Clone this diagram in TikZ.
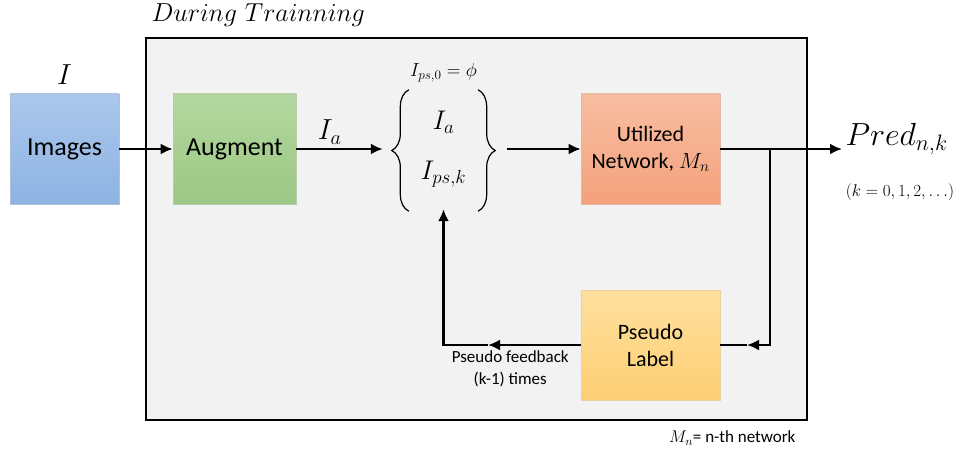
\RequirePackage{fix-cm}
\documentclass[tikz,border=0pt]{standalone}
\usepackage{amsmath}
\usepackage{fontspec}
\setsansfont{Carlito}
\usepackage{xcolor}
\usetikzlibrary{arrows.meta,positioning,decorations.pathreplacing}

\definecolor{framegray}{HTML}{F2F2F2}
\definecolor{imgtop}{HTML}{ABC7EC}
\definecolor{imgbot}{HTML}{8DB3E2}
\definecolor{augtop}{HTML}{B4D8A0}
\definecolor{augbot}{HTML}{9BC783}
\definecolor{nettop}{HTML}{F8BEA2}
\definecolor{netbot}{HTML}{F4A17C}
\definecolor{pltop}{HTML}{FFE09E}
\definecolor{plbot}{HTML}{FDCF74}

\begin{document}
\begin{tikzpicture}[x=1pt, y=-1pt, node distance=170pt, >={Latex[length=12pt,width=11pt]}]
			\useasboundingbox (0,0) rectangle (970,460);
			
			% Styles
			\tikzstyle{frame} = [rectangle, draw, line width=2.6pt, fill=framegray, minimum width=661pt, minimum height=382pt]
			\tikzstyle{block} = [rectangle, minimum height=110pt, align=center, line width=0.6pt, font=\sffamily\fontsize{26}{30}\selectfont]
			\tikzstyle{smallblock} = [block, font=\sffamily\fontsize{22}{27}\selectfont]
			\tikzstyle{arrow} = [->, line width=2.9pt]
			\tikzstyle{line} = [line width=2.9pt]
			\tikzstyle{brace} = [decorate, decoration={brace, amplitude=17pt}, line width=1.2pt]
			\tikzstyle{mathbig} = [font=\fontsize{29}{33}\selectfont]
			\tikzstyle{note} = [font=\sffamily\fontsize{17}{22}\selectfont, align=center]
			
			% Frame
			\node[frame] (train) at (476.5,229) {};
			\node[anchor=base west, font=\fontsize{26}{29}\selectfont] (title) at (148,22) {$During\ Trainning$};
			
			% Nodes
			\node[block, top color=imgtop, bottom color=imgbot, draw=imgbot!85!black!60, minimum width=109pt] (images) at (64.5,149) {Images};
			\node[block, top color=augtop, bottom color=augbot, draw=augbot!85!black!60, minimum width=123pt, right of=images] (augment) {Augment};
			\node[minimum width=103pt, minimum height=120pt, align=center, font=\fontsize{27}{30}\selectfont, right of=augment, node distance=209pt] (grp) {$I_a$\\[20pt]$I_{ps,k}$};
			\node[smallblock, top color=nettop, bottom color=netbot, draw=netbot!85!black!60, minimum width=139pt, right of=grp, node distance=207pt] (utilized) {Utilized\\Network, $M_n$};
			\node[smallblock, top color=pltop, bottom color=plbot, draw=plbot!85!black!60, minimum width=139pt, below of=utilized, node distance=196pt] (pseudo) {Pseudo\\Label};
			
			% Labels
			\node[mathbig, above=6pt of images] (inp) {$I$};
			\node[font=\fontsize{19}{22}\selectfont, above=3pt of grp] (init) {$I_{ps,0}=\phi$};
			\node[font=\fontsize{32}{36}\selectfont, anchor=base west] (pred) at (842,146) {$Pred_{n,k}$};
			\node[font=\fontsize{17}{20}\selectfont] (krange) at (900,192) {$(k=0,1,2,\ldots)$};
			\node[note, anchor=east] (legend) at (799,438) {$M_n$= n-th network};
			
			% Braces
			\draw[brace] ([xshift=17pt,yshift=-2pt]grp.south west) -- ([xshift=17pt,yshift=-1pt]grp.north west);
			\draw[brace] ([xshift=-17pt,yshift=-1pt]grp.north east) -- ([xshift=-17pt,yshift=-2pt]grp.south east);
			
			% Coordinates
			\coordinate (split) at (770,149);
			\coordinate (fbA) at (747,345);
			\coordinate (fbB) at (488,345);
			
			% Arrows (main flow)
			\draw[arrow] (images) -- (augment);
			\draw[arrow, shorten >=9pt] (augment) -- (grp) node[mathbig, pos=0.35, above] {$I_a$};
			\draw[arrow, shorten <=12pt] (grp) -- (utilized);
			\draw[arrow] (utilized) -- (utilized -| pred.west);
			
			% Arrows (feedback loop)
			\draw[arrow] (split) |- (fbA);
			\draw[line] (fbA) -- (pseudo.east);
			\draw[arrow] (pseudo.west) -- (fbB) node[note, pos=0.76, below, inner sep=4pt] {Pseudo feedback\\(k-1) times};
			\draw[arrow] (fbB) -| (grp.south);
			
		\end{tikzpicture}
\end{document}
